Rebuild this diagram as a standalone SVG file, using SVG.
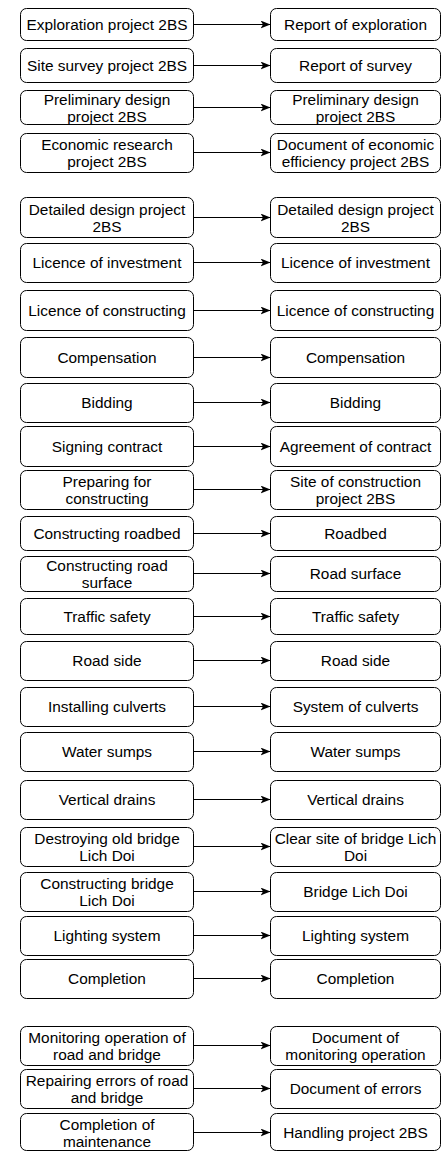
<svg xmlns="http://www.w3.org/2000/svg" width="441" height="1151" viewBox="0 0 441 1151">
<style>
rect.n{fill:#fff;stroke:#000;stroke-width:1}
text{font-family:"Liberation Sans",Arial,Helvetica,sans-serif;font-size:15.4px;fill:#000;text-anchor:middle}
.c line{stroke:#000;stroke-width:1;fill:none}
</style>
<defs>
<marker id="ah" viewBox="0 0 10 8" refX="10" refY="4" markerWidth="10" markerHeight="8" markerUnits="userSpaceOnUse" orient="auto">
<path d="M0,0 L10,4 L0,8 L2.5,4 Z" fill="#000"/>
</marker>
</defs>
<rect width="441" height="1151" fill="#fff"/>
<g class="c" id="connectors">
<line x1="193.5" y1="24.5" x2="270.5" y2="24.5" marker-end="url(#ah)"/>
<line x1="193.5" y1="65.5" x2="270.5" y2="65.5" marker-end="url(#ah)"/>
<line x1="193.5" y1="107.5" x2="270.5" y2="107.5" marker-end="url(#ah)"/>
<line x1="193.5" y1="152.5" x2="270.5" y2="152.5" marker-end="url(#ah)"/>
<line x1="193.5" y1="217.5" x2="270.5" y2="217.5" marker-end="url(#ah)"/>
<line x1="193.5" y1="262.5" x2="270.5" y2="262.5" marker-end="url(#ah)"/>
<line x1="193.5" y1="310.5" x2="270.5" y2="310.5" marker-end="url(#ah)"/>
<line x1="193.5" y1="357.5" x2="270.5" y2="357.5" marker-end="url(#ah)"/>
<line x1="193.5" y1="402.5" x2="270.5" y2="402.5" marker-end="url(#ah)"/>
<line x1="193.5" y1="446.5" x2="270.5" y2="446.5" marker-end="url(#ah)"/>
<line x1="193.5" y1="489.5" x2="270.5" y2="489.5" marker-end="url(#ah)"/>
<line x1="193.5" y1="533.5" x2="270.5" y2="533.5" marker-end="url(#ah)"/>
<line x1="193.5" y1="573.5" x2="270.5" y2="573.5" marker-end="url(#ah)"/>
<line x1="193.5" y1="616.5" x2="270.5" y2="616.5" marker-end="url(#ah)"/>
<line x1="193.5" y1="660.5" x2="270.5" y2="660.5" marker-end="url(#ah)"/>
<line x1="193.5" y1="706.5" x2="270.5" y2="706.5" marker-end="url(#ah)"/>
<line x1="193.5" y1="751.5" x2="270.5" y2="751.5" marker-end="url(#ah)"/>
<line x1="193.5" y1="799.5" x2="270.5" y2="799.5" marker-end="url(#ah)"/>
<line x1="193.5" y1="846.5" x2="270.5" y2="846.5" marker-end="url(#ah)"/>
<line x1="193.5" y1="891.5" x2="270.5" y2="891.5" marker-end="url(#ah)"/>
<line x1="193.5" y1="935.5" x2="270.5" y2="935.5" marker-end="url(#ah)"/>
<line x1="193.5" y1="978.5" x2="270.5" y2="978.5" marker-end="url(#ah)"/>
<line x1="193.5" y1="1045.5" x2="270.5" y2="1045.5" marker-end="url(#ah)"/>
<line x1="193.5" y1="1088.5" x2="270.5" y2="1088.5" marker-end="url(#ah)"/>
<line x1="193.5" y1="1132.5" x2="270.5" y2="1132.5" marker-end="url(#ah)"/>
</g>
<g id="l1"><rect class="n" x="20.5" y="8.5" width="173" height="32" rx="6"/><text x="107" y="30">Exploration project 2BS</text></g>
<g id="r1"><rect class="n" x="270.5" y="8.5" width="170" height="32" rx="6"/><text x="355.5" y="30">Report of exploration</text></g>
<g id="l2"><rect class="n" x="20.5" y="48.5" width="173" height="34" rx="6"/><text x="107" y="71">Site survey project 2BS</text></g>
<g id="r2"><rect class="n" x="270.5" y="48.5" width="170" height="34" rx="6"/><text x="355.5" y="71">Report of survey</text></g>
<g id="l3"><rect class="n" x="20.5" y="90.5" width="173" height="34" rx="6"/><text x="107" y="105">Preliminary design</text><text x="107" y="122">project 2BS</text></g>
<g id="r3"><rect class="n" x="270.5" y="90.5" width="170" height="34" rx="6"/><text x="355.5" y="105">Preliminary design</text><text x="355.5" y="122">project 2BS</text></g>
<g id="l4"><rect class="n" x="20.5" y="133.5" width="173" height="39" rx="6"/><text x="107" y="150">Economic research</text><text x="107" y="167">project 2BS</text></g>
<g id="r4"><rect class="n" x="270.5" y="133.5" width="170" height="39" rx="6"/><text x="355.5" y="150">Document of economic</text><text x="355.5" y="167">efficiency project 2BS</text></g>
<g id="l5"><rect class="n" x="20.5" y="197.5" width="173" height="40" rx="6"/><text x="107" y="214.5">Detailed design project</text><text x="107" y="231.5">2BS</text></g>
<g id="r5"><rect class="n" x="270.5" y="197.5" width="170" height="40" rx="6"/><text x="355.5" y="214.5">Detailed design project</text><text x="355.5" y="231.5">2BS</text></g>
<g id="l6"><rect class="n" x="20.5" y="243.5" width="173" height="39" rx="6"/><text x="107" y="268">Licence of investment</text></g>
<g id="r6"><rect class="n" x="270.5" y="243.5" width="170" height="39" rx="6"/><text x="355.5" y="268">Licence of investment</text></g>
<g id="l7"><rect class="n" x="20.5" y="290.5" width="173" height="40" rx="6"/><text x="107" y="316">Licence of constructing</text></g>
<g id="r7"><rect class="n" x="270.5" y="290.5" width="170" height="40" rx="6"/><text x="355.5" y="316">Licence of constructing</text></g>
<g id="l8"><rect class="n" x="20.5" y="337.5" width="173" height="40" rx="6"/><text x="107" y="363">Compensation</text></g>
<g id="r8"><rect class="n" x="270.5" y="337.5" width="170" height="40" rx="6"/><text x="355.5" y="363">Compensation</text></g>
<g id="l9"><rect class="n" x="20.5" y="383.5" width="173" height="39" rx="6"/><text x="107" y="408">Bidding</text></g>
<g id="r9"><rect class="n" x="270.5" y="383.5" width="170" height="39" rx="6"/><text x="355.5" y="408">Bidding</text></g>
<g id="l10"><rect class="n" x="20.5" y="426.5" width="173" height="40" rx="6"/><text x="107" y="452">Signing contract</text></g>
<g id="r10"><rect class="n" x="270.5" y="426.5" width="170" height="40" rx="6"/><text x="355.5" y="452">Agreement of contract</text></g>
<g id="l11"><rect class="n" x="20.5" y="470.5" width="173" height="39" rx="6"/><text x="107" y="487">Preparing for</text><text x="107" y="504">constructing</text></g>
<g id="r11"><rect class="n" x="270.5" y="470.5" width="170" height="39" rx="6"/><text x="355.5" y="487">Site of construction</text><text x="355.5" y="504">project 2BS</text></g>
<g id="l12"><rect class="n" x="20.5" y="516.5" width="173" height="34" rx="6"/><text x="107" y="539">Constructing roadbed</text></g>
<g id="r12"><rect class="n" x="270.5" y="516.5" width="170" height="34" rx="6"/><text x="355.5" y="539">Roadbed</text></g>
<g id="l13"><rect class="n" x="20.5" y="556.5" width="173" height="35" rx="6"/><text x="107" y="571">Constructing road</text><text x="107" y="588">surface</text></g>
<g id="r13"><rect class="n" x="270.5" y="556.5" width="170" height="35" rx="6"/><text x="355.5" y="579">Road surface</text></g>
<g id="l14"><rect class="n" x="20.5" y="598.5" width="173" height="36" rx="6"/><text x="107" y="622">Traffic safety</text></g>
<g id="r14"><rect class="n" x="270.5" y="598.5" width="170" height="36" rx="6"/><text x="355.5" y="622">Traffic safety</text></g>
<g id="l15"><rect class="n" x="20.5" y="641.5" width="173" height="39" rx="6"/><text x="107" y="666">Road side</text></g>
<g id="r15"><rect class="n" x="270.5" y="641.5" width="170" height="39" rx="6"/><text x="355.5" y="666">Road side</text></g>
<g id="l16"><rect class="n" x="20.5" y="687.5" width="173" height="39" rx="6"/><text x="107" y="712">Installing culverts</text></g>
<g id="r16"><rect class="n" x="270.5" y="687.5" width="170" height="39" rx="6"/><text x="355.5" y="712">System of culverts</text></g>
<g id="l17"><rect class="n" x="20.5" y="732.5" width="173" height="39" rx="6"/><text x="107" y="757">Water sumps</text></g>
<g id="r17"><rect class="n" x="270.5" y="732.5" width="170" height="39" rx="6"/><text x="355.5" y="757">Water sumps</text></g>
<g id="l18"><rect class="n" x="20.5" y="780.5" width="173" height="39" rx="6"/><text x="107" y="805">Vertical drains</text></g>
<g id="r18"><rect class="n" x="270.5" y="780.5" width="170" height="39" rx="6"/><text x="355.5" y="805">Vertical drains</text></g>
<g id="l19"><rect class="n" x="20.5" y="827.5" width="173" height="39" rx="6"/><text x="107" y="844">Destroying old bridge</text><text x="107" y="861">Lich Doi</text></g>
<g id="r19"><rect class="n" x="270.5" y="827.5" width="170" height="39" rx="6"/><text x="355.5" y="844">Clear site of bridge Lich</text><text x="355.5" y="861">Doi</text></g>
<g id="l20"><rect class="n" x="20.5" y="872.5" width="173" height="39" rx="6"/><text x="107" y="889">Constructing bridge</text><text x="107" y="906">Lich Doi</text></g>
<g id="r20"><rect class="n" x="270.5" y="872.5" width="170" height="39" rx="6"/><text x="355.5" y="897">Bridge Lich Doi</text></g>
<g id="l21"><rect class="n" x="20.5" y="916.5" width="173" height="39" rx="6"/><text x="107" y="941">Lighting system</text></g>
<g id="r21"><rect class="n" x="270.5" y="916.5" width="170" height="39" rx="6"/><text x="355.5" y="941">Lighting system</text></g>
<g id="l22"><rect class="n" x="20.5" y="959.5" width="173" height="39" rx="6"/><text x="107" y="984">Completion</text></g>
<g id="r22"><rect class="n" x="270.5" y="959.5" width="170" height="39" rx="6"/><text x="355.5" y="984">Completion</text></g>
<g id="l23"><rect class="n" x="20.5" y="1026.5" width="173" height="39" rx="6"/><text x="107" y="1043">Monitoring operation of</text><text x="107" y="1060">road and bridge</text></g>
<g id="r23"><rect class="n" x="270.5" y="1026.5" width="170" height="39" rx="6"/><text x="355.5" y="1043">Document of</text><text x="355.5" y="1060">monitoring operation</text></g>
<g id="l24"><rect class="n" x="20.5" y="1069.5" width="173" height="39" rx="6"/><text x="107" y="1086">Repairing errors of road</text><text x="107" y="1103">and bridge</text></g>
<g id="r24"><rect class="n" x="270.5" y="1069.5" width="170" height="39" rx="6"/><text x="355.5" y="1094">Document of errors</text></g>
<g id="l25"><rect class="n" x="20.5" y="1113.5" width="173" height="37" rx="6"/><text x="107" y="1130">Completion of</text><text x="107" y="1147">maintenance</text></g>
<g id="r25"><rect class="n" x="270.5" y="1113.5" width="170" height="37" rx="6"/><text x="355.5" y="1138">Handling project 2BS</text></g>
</svg>
